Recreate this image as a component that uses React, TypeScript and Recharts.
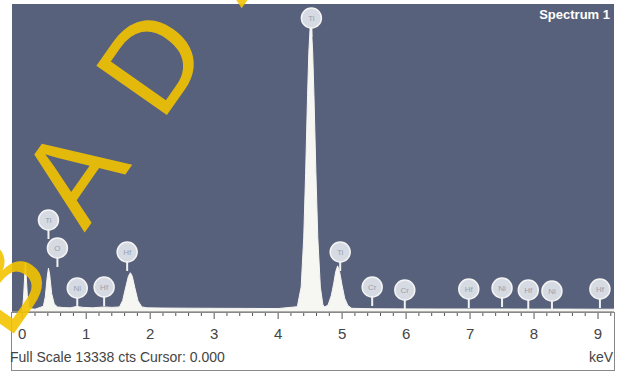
import React from "react"
import {
  ComposedChart,
  Area,
  Scatter,
  XAxis,
  YAxis,
  CartesianGrid
} from "recharts"

// spectrum (keV / counts)
const energy = [
  -0.16, 0, 0.02, 0.05, 0.08, 0.11, 0.2, 0.28, 0.33, 0.36, 0.39, 0.41, 0.43, 0.46, 0.5, 0.55,
  0.65, 0.75, 0.85, 0.95, 1.1, 1.28, 1.4, 1.52, 1.57, 1.62, 1.66, 1.69, 1.72, 1.76, 1.81, 1.87,
  1.95, 2.2, 2.6, 3.0, 3.5, 4.0, 4.3, 4.36, 4.4, 4.43, 4.46, 4.48, 4.5, 4.51, 4.52, 4.54, 4.56,
  4.59, 4.62, 4.66, 4.7, 4.73, 4.78, 4.83, 4.87, 4.9, 4.93, 4.96, 5.0, 5.04, 5.09, 5.15, 5.5,
  6.0, 6.5, 7.0, 7.5, 8.0, 8.5, 9.0, 9.25
]
const counts = [
  0, 0, 600, 2150, 700, 150, 120, 200, 250, 650, 1500, 1900, 1600, 800, 350, 220,
  190, 180, 240, 200, 180, 220, 200, 220, 500, 1100, 1550, 1700, 1550, 1050, 480, 220,
  180, 170, 165, 160, 155, 150, 230, 1080, 3210, 6050, 9380, 11250, 12310, 12450, 12310, 11250, 9380,
  6050, 3210, 1080, 300, 220, 300, 700, 1250, 1750, 2000, 1750, 1150, 600, 280, 160, 140,
  135, 130, 130, 130, 125, 125, 120, 120
]

// element markers
const markerEnergy = [0.41, 0.55, 0.86, 1.28, 1.64, 4.52, 4.97, 5.47, 5.98, 6.98, 7.5, 7.91, 8.28, 9.03]
const markerCounts = [3984, 2772, 1039, 1083, 2598, 12732, 2598, 1083, 953, 996, 1039, 953, 909, 996]
const markerLabels = ["Ti", "O", "Ni", "Hf", "Hf", "Ti", "Ti", "Cr", "Cr", "Hf", "Ni", "Hf", "Ni", "Hf"]

const xTicks = [
  0, 0.2, 0.4, 0.6, 0.8, 1, 1.2, 1.4, 1.6, 1.8, 2, 2.2, 2.4, 2.6, 2.8, 3, 3.2, 3.4, 3.6, 3.8,
  4, 4.2, 4.4, 4.6, 4.8, 5, 5.2, 5.4, 5.6, 5.8, 6, 6.2, 6.4, 6.6, 6.8, 7, 7.2, 7.4, 7.6, 7.8,
  8, 8.2, 8.4, 8.6, 8.8, 9, 9.2
]

const FULL_SCALE = 13338

const spectrum = energy.map((e, i) => ({ e, c: counts[i] }))
const markers = markerEnergy.map((e, i) => ({ e, c: markerCounts[i], label: markerLabels[i] }))

const FONT = "'Liberation Sans', Arial, sans-serif"

function Tick(props: any) {
  const { x, y, payload } = props
  const v = payload.value
  const major = Math.abs(v - Math.round(v)) < 1e-6
  return (
    <g>
      <line x1={x} y1={y} x2={x} y2={y + (major ? 7 : 4)} stroke="#555" strokeWidth={1} />
      {major && (
        <text x={x} y={y + 27} textAnchor="middle" fontSize={15} fill="#444" fontFamily={FONT}>
          {Math.round(v)}
        </text>
      )}
    </g>
  )
}

function Marker(props: any) {
  const { cx, cy, payload } = props
  return (
    <g>
      <line x1={cx} y1={cy + 8} x2={cx} y2={cy + 19} stroke="#f2f2f2" strokeWidth={2} />
      <circle cx={cx} cy={cy} r={10} fill="#d6dae2" stroke="#f4f4f4" strokeWidth={1.5} />
      <text x={cx} y={cy + 3} textAnchor="middle" fontSize={8} fill="#9aa1ad" fontFamily={FONT}>
        {payload.label}
      </text>
    </g>
  )
}

export default function App() {
  return (
    <div style={{ position: "relative", width: 618, height: 372, background: "#fff", overflow: "hidden" }}>
      <style>{"body{margin:0}"}</style>

      <ComposedChart
        width={618}
        height={372}
        data={spectrum}
        margin={{ top: 4, right: 4, left: 12, bottom: 0 }}
      >
        <CartesianGrid horizontal={false} vertical={false} fill="#58617c" />

        <XAxis
          dataKey="e"
          type="number"
          domain={[-0.16, 9.25]}
          ticks={xTicks}
          interval={0}
          allowDataOverflow
          height={60}
          tickSize={0}
          tickMargin={0}
          axisLine={{ stroke: "#666" }}
          tick={<Tick />}
        />
        <YAxis type="number" domain={[0, FULL_SCALE]} hide allowDataOverflow />

        <Area
          type="linear"
          dataKey="c"
          stroke="#f6f6f2"
          strokeWidth={1}
          fill="#f6f6f2"
          fillOpacity={1}
          isAnimationActive={false}
        />

        <Scatter
          data={markers}
          dataKey="c"
          shape={<Marker />}
          isAnimationActive={false}
        />
      </ComposedChart>

      <div style={{ position: "absolute", left: 11, top: 312, width: 602, height: 57, border: "1px solid #888", pointerEvents: "none" }} />

      <div style={{ position: "absolute", right: 8, top: 7, color: "#fff", fontFamily: FONT, fontSize: 13, fontWeight: "bold" }}>
        Spectrum 1
      </div>
      <div style={{ position: "absolute", left: 10, top: 349, color: "#444", fontFamily: FONT, fontSize: 14 }}>
        Full Scale 13338 cts Cursor: 0.000
      </div>
      <div style={{ position: "absolute", right: 5, top: 349, color: "#444", fontFamily: FONT, fontSize: 14 }}>
        keV
      </div>

      <svg width={618} height={372} style={{ position: "absolute", left: 0, top: 0, pointerEvents: "none" }}>
        <text
          x={8}
          y={342}
          transform="rotate(-55 8 342)"
          fontSize={125}
          letterSpacing={50}
          fontFamily={FONT}
          fill="#f3c300"
          fillOpacity={0.9}
        >
          BADAN
        </text>
      </svg>
    </div>
  )
}
